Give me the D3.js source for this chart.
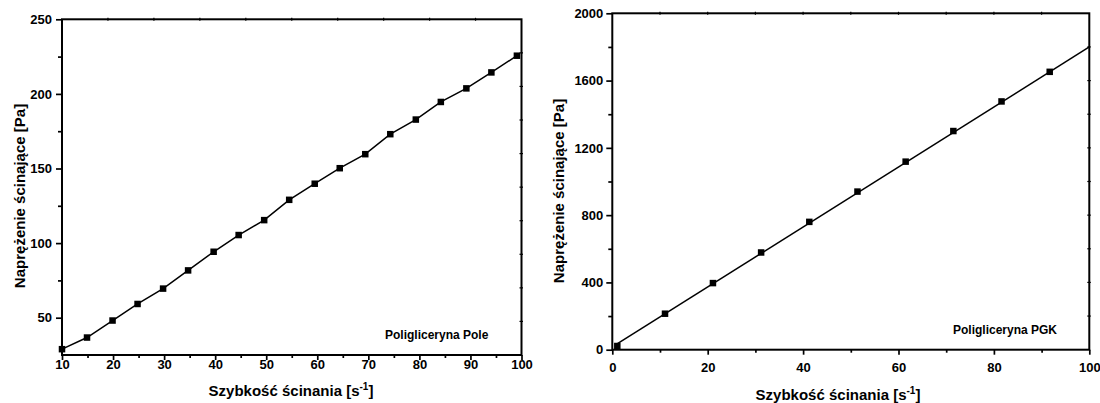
<!DOCTYPE html>
<html>
<head>
<meta charset="utf-8">
<script src="https://cdn.jsdelivr.net/npm/d3@7"></script>
<style>
  html, body { margin: 0; padding: 0; background: #fff; }
  svg { display: block; font-family: "Liberation Sans", Arial, sans-serif; }
  text { font-weight: bold; fill: #000; }
</style>
</head>
<body>
<svg id="chart" width="1100" height="403"></svg>
<script>
// ---- Data: Poligliceryna Pole ----
const poleX = [10, 14.9, 19.9, 24.8, 29.8, 34.7, 39.7, 44.6, 49.6, 54.5, 59.5, 64.4, 69.4, 74.3, 79.3, 84.2, 89.2, 94.1, 99.1];
const poleY = [28.9, 36.7, 48.1, 59.2, 69.5, 81.7, 94.2, 105.4, 115.4, 129.0, 139.8, 150.2, 159.6, 173.0, 182.8, 194.6, 203.7, 214.4, 225.6];
const poleXTicks = [10, 20, 30, 40, 50, 60, 70, 80, 90, 100];
const poleXMinor = [15, 25, 35, 45, 55, 65, 75, 85, 95];
const poleYTicks = [50, 100, 150, 200, 250];
const poleYMinor = [75, 125, 175, 225];

// ---- Data: Poligliceryna PGK ----
const pgkX = [1.05, 11.05, 21.1, 31.2, 41.3, 51.4, 61.5, 71.5, 81.6, 91.7];
const pgkY = [22, 214, 396, 578, 760, 940, 1118, 1300, 1476, 1652];
const pgkFitX = [1, 100];
const pgkFitY = [34, 1800];
const pgkXTicks = [0, 20, 40, 60, 80, 100];
const pgkXMinor = [10, 30, 50, 70, 90];
const pgkYTicks = [0, 400, 800, 1200, 1600, 2000];
const pgkYMinor = [200, 600, 1000, 1400, 1800];

const yLabel = "Naprężenie ścinające [Pa]";
const xLabelMain = "Szybkość ścinania [s";
const xLabelSup = "-1";
const xLabelEnd = "]";

const svg = d3.select("#chart");

function panel(cfg) {
  const g = svg.append("g");
  const x = d3.scaleLinear().domain(cfg.xDomain).range([cfg.left, cfg.right]);
  const y = d3.scaleLinear().domain(cfg.yDomain).range([cfg.bottom, cfg.top]);

  // bottom axis
  const xAxis = d3.axisBottom(x).tickValues(cfg.xTicks).tickSize(5).tickPadding(cfg.xPad).tickFormat(d3.format("d"));
  g.append("g").attr("transform", `translate(0,${cfg.bottom})`).call(xAxis);
  const xMinor = d3.axisBottom(x).tickValues(cfg.xMinor).tickSize(3).tickFormat("");
  g.append("g").attr("transform", `translate(0,${cfg.bottom})`).call(xMinor);

  // left axis
  const yAxis = d3.axisLeft(y).tickValues(cfg.yTicks).tickSize(6).tickPadding(cfg.yPad).tickFormat(d3.format("d"));
  g.append("g").attr("transform", `translate(${cfg.left},0)`).call(yAxis);
  const yMinor = d3.axisLeft(y).tickValues(cfg.yMinor).tickSize(4).tickFormat("");
  g.append("g").attr("transform", `translate(${cfg.left},0)`).call(yMinor);

  g.selectAll(".domain").remove();
  g.selectAll(".tick line").attr("stroke", "#000").attr("stroke-width", 1.7);
  g.selectAll(".tick text").style("font-size", "13px").style("font-weight", "bold")
    .attr("fill", "#000").style("font-family", "'Liberation Sans', Arial, sans-serif");

  // frame
  g.append("rect")
    .attr("x", cfg.left).attr("y", cfg.top)
    .attr("width", cfg.right - cfg.left).attr("height", cfg.bottom - cfg.top)
    .attr("fill", "none").attr("stroke", "#000").attr("stroke-width", 2);

  // tiny ticks on top and right axes (10 equal divisions)
  const divs = d3.range(1, 10);
  const topScale = d3.scaleLinear().domain([0, 10]).range([cfg.left, cfg.right]);
  const rightScale = d3.scaleLinear().domain([0, 10]).range([cfg.top, cfg.bottom]);
  g.selectAll(".tt").data(divs).enter().append("line")
    .attr("x1", d => topScale(d)).attr("x2", d => topScale(d))
    .attr("y1", cfg.top - 1.5).attr("y2", cfg.top + 1.5)
    .attr("stroke", "#000").attr("stroke-width", 1.2);
  g.selectAll(".rt").data(divs).enter().append("line")
    .attr("y1", d => rightScale(d)).attr("y2", d => rightScale(d))
    .attr("x1", cfg.right - 2).attr("x2", cfg.right + 1.5)
    .attr("stroke", "#000").attr("stroke-width", 1.2);

  // line
  const line = d3.line().x(d => x(d[0])).y(d => y(d[1]));
  const lineData = cfg.lineX.map((v, i) => [v, cfg.lineY[i]]);
  g.append("path").datum(lineData).attr("d", line)
    .attr("fill", "none").attr("stroke", "#000").attr("stroke-width", 1.5);

  // markers
  const pts = cfg.px.map((v, i) => [v, cfg.py[i]]);
  const s = 6.5;
  g.selectAll(".pt").data(pts).enter().append("rect")
    .attr("x", d => x(d[0]) - s / 2).attr("y", d => y(d[1]) - s / 2)
    .attr("width", s).attr("height", s).attr("fill", "#000");

  // legend text
  g.append("text").attr("x", cfg.legX).attr("y", cfg.legY)
    .style("font-size", "12px").text(cfg.legend);

  // y label
  g.append("text")
    .attr("transform", `translate(${cfg.yLabX},${cfg.yLabY}) rotate(-90)`)
    .attr("text-anchor", "middle").style("font-size", "15px").text(yLabel);

  // x label with superscript
  const xl = g.append("text").attr("x", cfg.xLabX).attr("y", cfg.xLabY)
    .attr("text-anchor", "middle").style("font-size", "15px");
  xl.append("tspan").text(xLabelMain);
  xl.append("tspan").attr("dy", -6).style("font-size", "10px").text(xLabelSup);
  xl.append("tspan").attr("dy", 6).text(xLabelEnd);
}

panel({
  left: 62, right: 521.5, top: 19.3, bottom: 355,
  xDomain: [10, 100], yDomain: [25, 250],
  xTicks: poleXTicks, xMinor: poleXMinor, yTicks: poleYTicks, yMinor: poleYMinor,
  xPad: 0, yPad: 4,
  px: poleX, py: poleY, lineX: poleX, lineY: poleY,
  legend: "Poligliceryna Pole", legX: 385, legY: 339,
  yLabX: 25, yLabY: 196, xLabX: 291, xLabY: 396
});

panel({
  left: 612.3, right: 1089.3, top: 13.3, bottom: 349.7,
  xDomain: [0, 100], yDomain: [0, 2000],
  xTicks: pgkXTicks, xMinor: pgkXMinor, yTicks: pgkYTicks, yMinor: pgkYMinor,
  xPad: 8, yPad: 3,
  px: pgkX, py: pgkY, lineX: pgkFitX, lineY: pgkFitY,
  legend: "Poligliceryna PGK", legX: 953, legY: 334,
  yLabX: 564, yLabY: 191, xLabX: 838, xLabY: 400
});
</script>
</body>
</html>
